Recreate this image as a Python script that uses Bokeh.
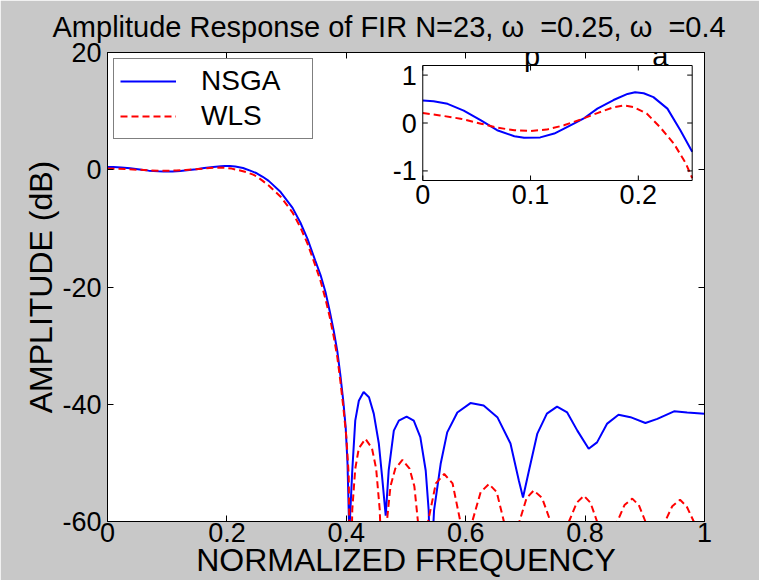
from bokeh.plotting import figure
from bokeh.models import Range1d, LinearAxis, FixedTicker, Label, Legend, Title
from bokeh.core.properties import value
from bokeh.embed import file_html
from bokeh.resources import INLINE

FONT = "Liberation Sans"

# ---------------- data ----------------
nsga_freq = [0.000, 0.010, 0.023, 0.038, 0.054, 0.069, 0.085, 0.094, 0.109, 0.122,
             0.137, 0.149, 0.162, 0.177, 0.190, 0.197, 0.205, 0.214, 0.227, 0.239,
             0.250, 0.260, 0.270, 0.290, 0.310, 0.323, 0.335, 0.348, 0.357, 0.365,
             0.372, 0.379, 0.385, 0.390, 0.395, 0.399, 0.402, 0.405, 0.410, 0.415,
             0.421, 0.429, 0.438, 0.446, 0.4545, 0.460, 0.466, 0.471, 0.4796, 0.488,
             0.501, 0.513, 0.524, 0.533, 0.538, 0.541, 0.547, 0.558, 0.569, 0.586,
             0.608, 0.630, 0.653, 0.675, 0.689, 0.696, 0.706, 0.720, 0.736, 0.753,
             0.770, 0.787, 0.806, 0.820, 0.837, 0.856, 0.876, 0.901, 0.921, 0.949,
             0.971, 1.000]
nsga_db = [0.47, 0.455, 0.40, 0.26, 0.055, -0.15, -0.276, -0.31, -0.30, -0.22,
           -0.048, 0.09, 0.30, 0.48, 0.607, 0.64, 0.62, 0.54, 0.30, -0.15,
           -0.60, -1.2, -1.9, -3.8, -6.5, -9.0, -11.8, -15.5, -18.0, -20.8,
           -24.0, -27.5, -31.0, -35.0, -39.5, -44.0, -50.0, -62.0, -51.3, -42.8,
           -39.4, -37.9, -38.8, -41.6, -46.7, -52.4, -59.0, -51.3, -44.5, -42.8,
           -42.1, -42.8, -45.6, -51.3, -58.1, -70.0, -58.1, -50.2, -44.8, -41.4,
           -39.8, -40.2, -42.2, -46.7, -53.0, -55.9, -51.3, -45.0, -41.6, -40.4,
           -41.4, -44.5, -47.6, -46.5, -43.3, -41.8, -42.2, -43.2, -42.5, -41.2,
           -41.4, -41.6]

wls_freq = [0.000, 0.016, 0.035, 0.054, 0.069, 0.085, 0.100, 0.115, 0.131, 0.146,
            0.162, 0.177, 0.187, 0.196, 0.208, 0.220, 0.233, 0.244, 0.250, 0.260,
            0.270, 0.290, 0.310, 0.323, 0.335, 0.348, 0.357, 0.365, 0.372, 0.379,
            0.385, 0.390, 0.395, 0.400, 0.404, 0.407, 0.410, 0.415, 0.421, 0.432,
            0.443, 0.450, 0.456, 0.462, 0.468, 0.474, 0.482, 0.494, 0.506, 0.514,
            0.520, 0.528, 0.537, 0.550, 0.564, 0.578, 0.591, 0.601, 0.611, 0.625,
            0.639, 0.652, 0.664, 0.677, 0.690, 0.702, 0.714, 0.728, 0.742, 0.757,
            0.773, 0.786, 0.798, 0.809, 0.820, 0.837, 0.854, 0.866, 0.879, 0.890,
            0.901, 0.918, 0.934, 0.946, 0.959, 0.970, 0.982, 1.000]
wls_db = [0.207, 0.159, 0.09, -0.014, -0.097, -0.152, -0.166, -0.138, -0.048, 0.069,
          0.207, 0.33, 0.366, 0.33, 0.193, -0.083, -0.43, -0.84, -1.15, -1.9,
          -2.7, -4.6, -7.3, -9.8, -12.6, -16.3, -19.0, -22.0, -25.0, -28.5,
          -32.0, -36.0, -40.5, -45.5, -52.0, -75.0, -58.0, -51.0, -47.5, -45.9,
          -47.5, -51.0, -58.0, -75.0, -60.0, -54.0, -51.0, -49.5, -51.0, -54.0,
          -60.0, -75.0, -60.0, -53.5, -51.9, -53.5, -60.0, -75.0, -60.0, -55.0,
          -53.6, -55.0, -60.0, -75.0, -60.0, -56.0, -54.7, -56.0, -60.0, -75.0,
          -60.0, -56.8, -55.6, -56.8, -60.0, -75.0, -60.0, -57.2, -56.1, -57.2,
          -60.0, -75.0, -60.0, -57.4, -56.3, -57.4, -60.0, -75.0]

x_ticks = [0, 0.2, 0.4, 0.6, 0.8, 1]
x_tick_labels = ["0", "0.2", "0.4", "0.6", "0.8", "1"]
y_ticks = [-60, -40, -20, 0, 20]
y_tick_labels = ["-60", "-40", "-20", "0", "20"]

inset_x_ticks = [0, 0.1, 0.2]
inset_x_labels = ["0", "0.1", "0.2"]
inset_y_ticks = [-1, 0, 1]
inset_y_labels = ["-1", "0", "1"]

series_names = ["NSGA", "WLS"]
NB = "\u00a0\u00a0"  # room for a subscript letter
title_text = "Amplitude Response of FIR N=23, \u03c9" + NB + "=0.25, \u03c9" + NB + "=0.4"
subscripts = ["p", "a"]

# ---------------- figure ----------------
p = figure(width=759, height=580, output_backend="svg", toolbar_location=None,
           title=None, x_range=Range1d(0, 1), y_range=Range1d(-60, 20),
           min_border_left=107, min_border_right=55, min_border_top=52, min_border_bottom=59)
p.border_fill_color = "#c8c8c8"
p.background_fill_color = "white"
p.outline_line_color = "black"
p.grid.visible = False


def style_axis(ax, ticks, labels, size="27px"):
    ax.ticker = FixedTicker(ticks=ticks)
    ax.major_tick_in = 6
    ax.major_tick_out = 0
    ax.minor_tick_in = 0
    ax.minor_tick_out = 0
    ax.axis_line_color = "black"
    ax.major_tick_line_color = "black"
    ax.major_label_text_font = FONT
    ax.major_label_text_font_size = size
    ax.major_label_text_color = "black"
    ax.major_label_overrides = dict(zip(ticks, labels))


xa = p.xaxis[0]
style_axis(xa, x_ticks, x_tick_labels)
xa.major_label_standoff = 1
xa.axis_label = "NORMALIZED FREQUENCY"
xa.axis_label_text_font = FONT
xa.axis_label_text_font_size = "32px"
xa.axis_label_text_font_style = "normal"
xa.axis_label_text_color = "black"
xa.axis_label_standoff = -3

ya = p.yaxis[0]
style_axis(ya, y_ticks, y_tick_labels)
ya.major_label_standoff = 6
ya.axis_label = "AMPLITUDE (dB)"
ya.axis_label_text_font = FONT
ya.axis_label_text_font_size = "32px"
ya.axis_label_text_font_style = "normal"
ya.axis_label_text_color = "black"
ya.axis_label_standoff = 0

top_ax = LinearAxis()
style_axis(top_ax, x_ticks, ["" for _ in x_ticks], size="10px")
top_ax.major_label_standoff = 0
p.add_layout(top_ax, "above")
right_ax = LinearAxis()
style_axis(right_ax, y_ticks, ["" for _ in y_ticks], size="10px")
p.add_layout(right_ax, "right")

p.add_layout(Title(text=title_text, align="left", offset=-55, standoff=16,
                   vertical_align="top", text_font=FONT, text_font_size="29px",
                   text_font_style="normal", text_color="black"), "above")

r_nsga = p.line(nsga_freq, nsga_db, line_color="#0000ff", line_width=2)
r_wls = p.line(wls_freq, wls_db, line_color="#ff0000", line_width=2, line_dash="7 4")

legend = Legend(items=[(series_names[0], [r_nsga]), (series_names[1], [r_wls])],
                location="top_left", margin=6, padding=6, spacing=3,
                glyph_width=56, glyph_height=32, label_height=32, label_width=105,
                label_standoff=25, label_text_font=FONT, label_text_font_size="28px",
                label_text_color="black", border_line_color="black", border_line_width=1,
                background_fill_color="white", background_fill_alpha=1.0)
p.add_layout(legend)

# subscripts of the title (canvas pixels)
for t, tx in zip(subscripts, [523.5, 651.7]):
    p.add_layout(Label(x=tx, y=55, x_units="canvas", y_units="canvas", text=t,
                       text_font=FONT, text_font_size="29px", text_color="black",
                       text_align="left", text_baseline="alphabetic"))

# ---------------- inset ----------------
ixr = Range1d(0, 0.25)
iyr = Range1d(-1.2, 1.2)
ins = p.subplot(x_source=ixr, y_source=iyr,
                x_target=Range1d(0.5281, 0.9794), y_target=Range1d(-1.834, 17.78))

ins_nsga_f = [f for f in nsga_freq if f <= ixr.end]
ins_nsga_d = nsga_db[:len(ins_nsga_f)]
ins_wls_f = [f for f in wls_freq if f <= ixr.end]
ins_wls_d = wls_db[:len(ins_wls_f)]

ins.quad(left=[ixr.start], right=[ixr.end], bottom=[iyr.start], top=[iyr.end],
         fill_color="white", line_color=None)
ins.line(ins_nsga_f, ins_nsga_d, line_color="#0000ff", line_width=2)
ins.line(ins_wls_f, ins_wls_d, line_color="#ff0000", line_width=2, line_dash="7 4")
ins.quad(left=[ixr.start], right=[ixr.end], bottom=[iyr.start], top=[iyr.end],
         fill_color=None, line_color="black", line_width=1)

n = len(inset_x_ticks)
ins.ray(x=inset_x_ticks, y=[iyr.start] * n, length=5, length_units="screen",
        angle=90, angle_units="deg", line_color="black")
ins.ray(x=inset_x_ticks, y=[iyr.end] * n, length=5, length_units="screen",
        angle=-90, angle_units="deg", line_color="black")
m = len(inset_y_ticks)
ins.ray(x=[ixr.start] * m, y=inset_y_ticks, length=5, length_units="screen",
        angle=0, angle_units="deg", line_color="black")
ins.ray(x=[ixr.end] * m, y=inset_y_ticks, length=5, length_units="screen",
        angle=180, angle_units="deg", line_color="black")

ins.text(x=inset_x_ticks, y=[iyr.start] * n, text=inset_x_labels, text_align="center",
         text_baseline="top", y_offset=4, text_font=value(FONT), text_font_size="27px",
         text_color="black")
ins.text(x=[ixr.start] * m, y=inset_y_ticks, text=inset_y_labels, text_align="right",
         text_baseline="middle", x_offset=-6, text_font=value(FONT), text_font_size="27px",
         text_color="black")

open("out.html", "w").write(file_html(p, INLINE))
